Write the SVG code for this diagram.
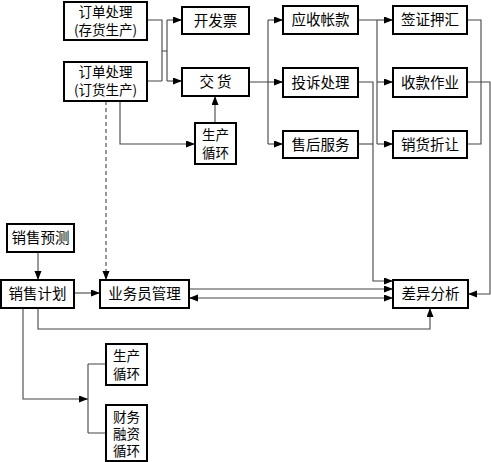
<svg xmlns="http://www.w3.org/2000/svg" width="491" height="462" viewBox="0 0 491 462">
<style>
.box{fill:#fff;stroke:#000;stroke-width:2}
.t{font-family:"Noto Sans CJK SC","Noto Sans",sans-serif;font-size:14.5px;fill:#000;text-anchor:middle}
.m{font-size:13.5px}
.c{fill:none;stroke:#444;stroke-width:1.1}
.d{stroke-dasharray:4,3}
</style>
<defs>
<marker id="a" markerUnits="userSpaceOnUse" markerWidth="10" markerHeight="8" refX="9" refY="3.5" orient="auto-start-reverse">
<path d="M0,0 L9,3.5 L0,7 z" fill="#000"/>
</marker>
</defs>
<rect width="491" height="462" fill="#fff"/>
<g id="connectors">
<path class="c" d="M147,20 H162 V81 M147,81 H162 M162,51 H167 M167,20 V81"/>
<path class="c" d="M167,20 H182" marker-end="url(#a)"/>
<path class="c" d="M167,81 H182" marker-end="url(#a)"/>
<path class="c" d="M249,82 H268 M268,20 V144"/>
<path class="c" d="M268,20 H283" marker-end="url(#a)"/>
<path class="c" d="M268,82 H283" marker-end="url(#a)"/>
<path class="c" d="M268,144 H283" marker-end="url(#a)"/>
<path class="c" d="M358,20 H377 M377,20 V144"/>
<path class="c" d="M377,20 H393" marker-end="url(#a)"/>
<path class="c" d="M377,82 H393" marker-end="url(#a)"/>
<path class="c" d="M377,144 H393" marker-end="url(#a)"/>
<path class="c" d="M358,82 H373 V281 H393" marker-end="url(#a)"/>
<path class="c" d="M358,144 H373"/>
<path class="c" d="M467,20 H481 V144 H467"/>
<path class="c" d="M467,82 H490 V294 H468" marker-end="url(#a)"/>
<path class="c" d="M38,252 V280" marker-end="url(#a)"/>
<path class="c" d="M74,293 H100" marker-end="url(#a)"/>
<path class="c" d="M189,289 H393" marker-end="url(#a)"/>
<path class="c" d="M189,298 H393" marker-start="url(#a)" marker-end="url(#a)"/>
<path class="c" d="M38,308 V329 H430 V308" marker-end="url(#a)"/>
<path class="c" d="M23,308 V399 H88" marker-end="url(#a)"/>
<path class="c" d="M88,364 V433 M88,364 H106 M88,433 H106"/>
<path class="c d" d="M106,101 V280" marker-end="url(#a)"/>
<path class="c" d="M120,101 V144 H195" marker-end="url(#a)"/>
<path class="c" d="M215,123 V96" marker-end="url(#a)"/>
</g>
<g id="n1"><rect class="box" x="64" y="2" width="83" height="38"/><text class="t m" x="105.5" y="17">订单处理</text><text class="t m" x="105.5" y="35">(存货生产)</text></g>
<g id="n2"><rect class="box" x="64" y="62" width="83" height="39"/><text class="t m" x="105.5" y="77">订单处理</text><text class="t m" x="105.5" y="95">(订货生产)</text></g>
<g id="n3"><rect class="box" x="182" y="7" width="67" height="27"/><text class="t" x="215.5" y="26">开发票</text></g>
<g id="n4"><rect class="box" x="182" y="68" width="67" height="28"/><text class="t" x="215.5" y="87">交 货</text></g>
<g id="n5"><rect class="box" x="195" y="123" width="41" height="41"/><text class="t m" x="215.5" y="140">生产</text><text class="t m" x="215.5" y="158">循环</text></g>
<g id="n6"><rect class="box" x="283" y="6" width="75" height="28"/><text class="t" x="320.5" y="25">应收帐款</text></g>
<g id="n7"><rect class="box" x="283" y="68" width="75" height="29"/><text class="t" x="320.5" y="88">投诉处理</text></g>
<g id="n8"><rect class="box" x="283" y="131" width="75" height="27"/><text class="t" x="320.5" y="150">售后服务</text></g>
<g id="n9"><rect class="box" x="393" y="6" width="74" height="28"/><text class="t" x="430" y="25">签证押汇</text></g>
<g id="n10"><rect class="box" x="393" y="68" width="74" height="29"/><text class="t" x="430" y="88">收款作业</text></g>
<g id="n11"><rect class="box" x="393" y="131" width="74" height="27"/><text class="t" x="430" y="150">销货折让</text></g>
<g id="n12"><rect class="box" x="7" y="224" width="67" height="28"/><text class="t" x="40.5" y="243">销售预测</text></g>
<g id="n13"><rect class="box" x="1" y="280" width="73" height="28"/><text class="t" x="37.5" y="299">销售计划</text></g>
<g id="n14"><rect class="box" x="100" y="280" width="89" height="28"/><text class="t" x="144.5" y="299">业务员管理</text></g>
<g id="n15"><rect class="box" x="393" y="280" width="75" height="28"/><text class="t" x="430.5" y="299">差异分析</text></g>
<g id="n16"><rect class="box" x="106" y="344" width="41" height="41"/><text class="t m" x="126.5" y="361">生产</text><text class="t m" x="126.5" y="379">循环</text></g>
<g id="n17"><rect class="box" x="106" y="405" width="41" height="56"/><text class="t m" x="126.5" y="422">财务</text><text class="t m" x="126.5" y="439">融资</text><text class="t m" x="126.5" y="456">循环</text></g>
</svg>
